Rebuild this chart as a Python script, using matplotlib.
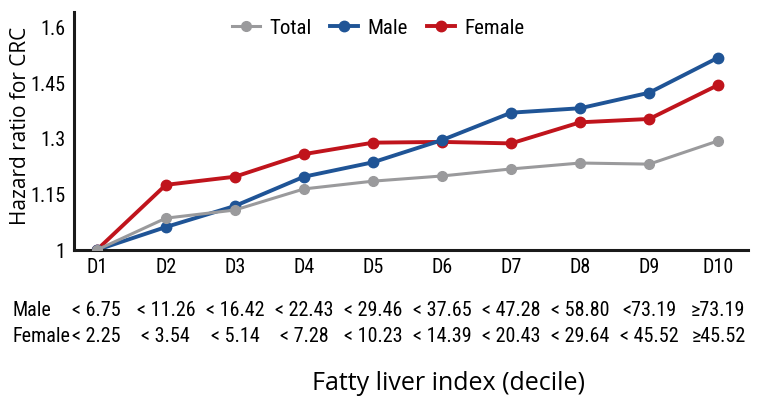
import matplotlib.pyplot as plt
from matplotlib import font_manager

deciles = ['D1', 'D2', 'D3', 'D4', 'D5', 'D6', 'D7', 'D8', 'D9', 'D10']
total = [1.0, 1.086, 1.108, 1.165, 1.186, 1.200, 1.219, 1.235, 1.232, 1.295]
male = [1.0, 1.062, 1.119, 1.198, 1.237, 1.297, 1.371, 1.383, 1.425, 1.520]
female = [1.0, 1.176, 1.198, 1.259, 1.290, 1.292, 1.288, 1.345, 1.354, 1.446]
male_cut = ['< 6.75', '< 11.26', '< 16.42', '< 22.43', '< 29.46', '< 37.65',
            '< 47.28', '< 58.80', '<73.19', '\u226573.19']
female_cut = ['< 2.25', '< 3.54', '< 5.14', '< 7.28', '< 10.23', '< 14.39',
              '< 20.43', '< 29.64', '< 45.52', '\u226545.52']
yticks = [1, 1.15, 1.3, 1.45, 1.6]
ytick_labels = ['1', '1.15', '1.3', '1.45', '1.6']

# look for a condensed face, the reference uses a narrow font
names = sorted({f.name for f in font_manager.fontManager.ttflist})
prefer = ['Noto Sans ExtraCondensed', 'Liberation Sans Narrow', 'Noto Sans Condensed',
          'Roboto Condensed', 'Open Sans Condensed', 'DejaVu Sans Condensed']
narrow = None
for p in prefer:
    if p in names:
        narrow = p
        break
if narrow is None:
    for n in names:
        if 'Condensed' in n or 'Narrow' in n:
            narrow = n
            break
if narrow is None:
    narrow = 'Liberation Sans'
    fs = 12
elif 'Extra' in narrow:
    fs = 16
else:
    fs = 14.5
fam = [narrow, 'DejaVu Sans']
wide = ['Open Sans', 'DejaVu Sans']

fig = plt.figure(figsize=(7.59, 4.05), dpi=100)
ax = fig.add_axes([74 / 759, 1 - 250 / 405, (748 - 74) / 759, (250 - 12) / 405])

x = list(range(len(deciles)))
ax.plot(x, total, color='#9a9a9c', marker='o', markersize=7, lw=2.2, label='Total', zorder=3)
ax.plot(x, male, color='#1f5496', marker='o', markersize=7.5, lw=2.8, label='Male', zorder=2)
ax.plot(x, female, color='#c0141c', marker='o', markersize=7.5, lw=2.8, label='Female', zorder=1)

ax.set_xlim(-0.33, 9.43)
ax.set_ylim(1.0, 1.643)
ax.set_yticks(yticks)
ax.set_yticklabels(ytick_labels, family=fam, fontsize=fs)
ax.set_xticks(x)
ax.set_xticklabels(deciles, family=fam, fontsize=fs)
ax.tick_params(length=0, pad=6)
for s in ['top', 'right']:
    ax.spines[s].set_visible(False)
for s in ['left', 'bottom']:
    ax.spines[s].set_linewidth(2.2)
    ax.spines[s].set_color('#1a1a1a')

ax.set_ylabel('Hazard ratio for CRC', fontsize=15, family=wide)
ax.yaxis.set_label_coords(-43 / 674, 0.52)

leg = ax.legend(loc='center', bbox_to_anchor=(0.451, 1 - 16 / 238), ncol=3, frameon=False,
                prop={'family': fam, 'size': 15},
                handlelength=1.35, columnspacing=0.9, handletextpad=0.45)

# cut-off rows under the x axis
trans = ax.get_xaxis_transform()
fig.text(13 / 759, 1 - 310 / 405, 'Male', family=fam, fontsize=fs, va='center')
fig.text(13 / 759, 1 - 337 / 405, 'Female', family=fam, fontsize=fs, va='center')
for i in x:
    ax.text(i, -60 / 238, male_cut[i], transform=trans, ha='center', va='center',
            family=fam, fontsize=fs)
    ax.text(i, -87 / 238, female_cut[i], transform=trans, ha='center', va='center',
            family=fam, fontsize=fs)

fig.text(449 / 759, 1 - 383 / 405, 'Fatty liver index (decile)', ha='center', va='center',
         family=wide, fontsize=18)

fig.savefig('out.png', dpi=100)
